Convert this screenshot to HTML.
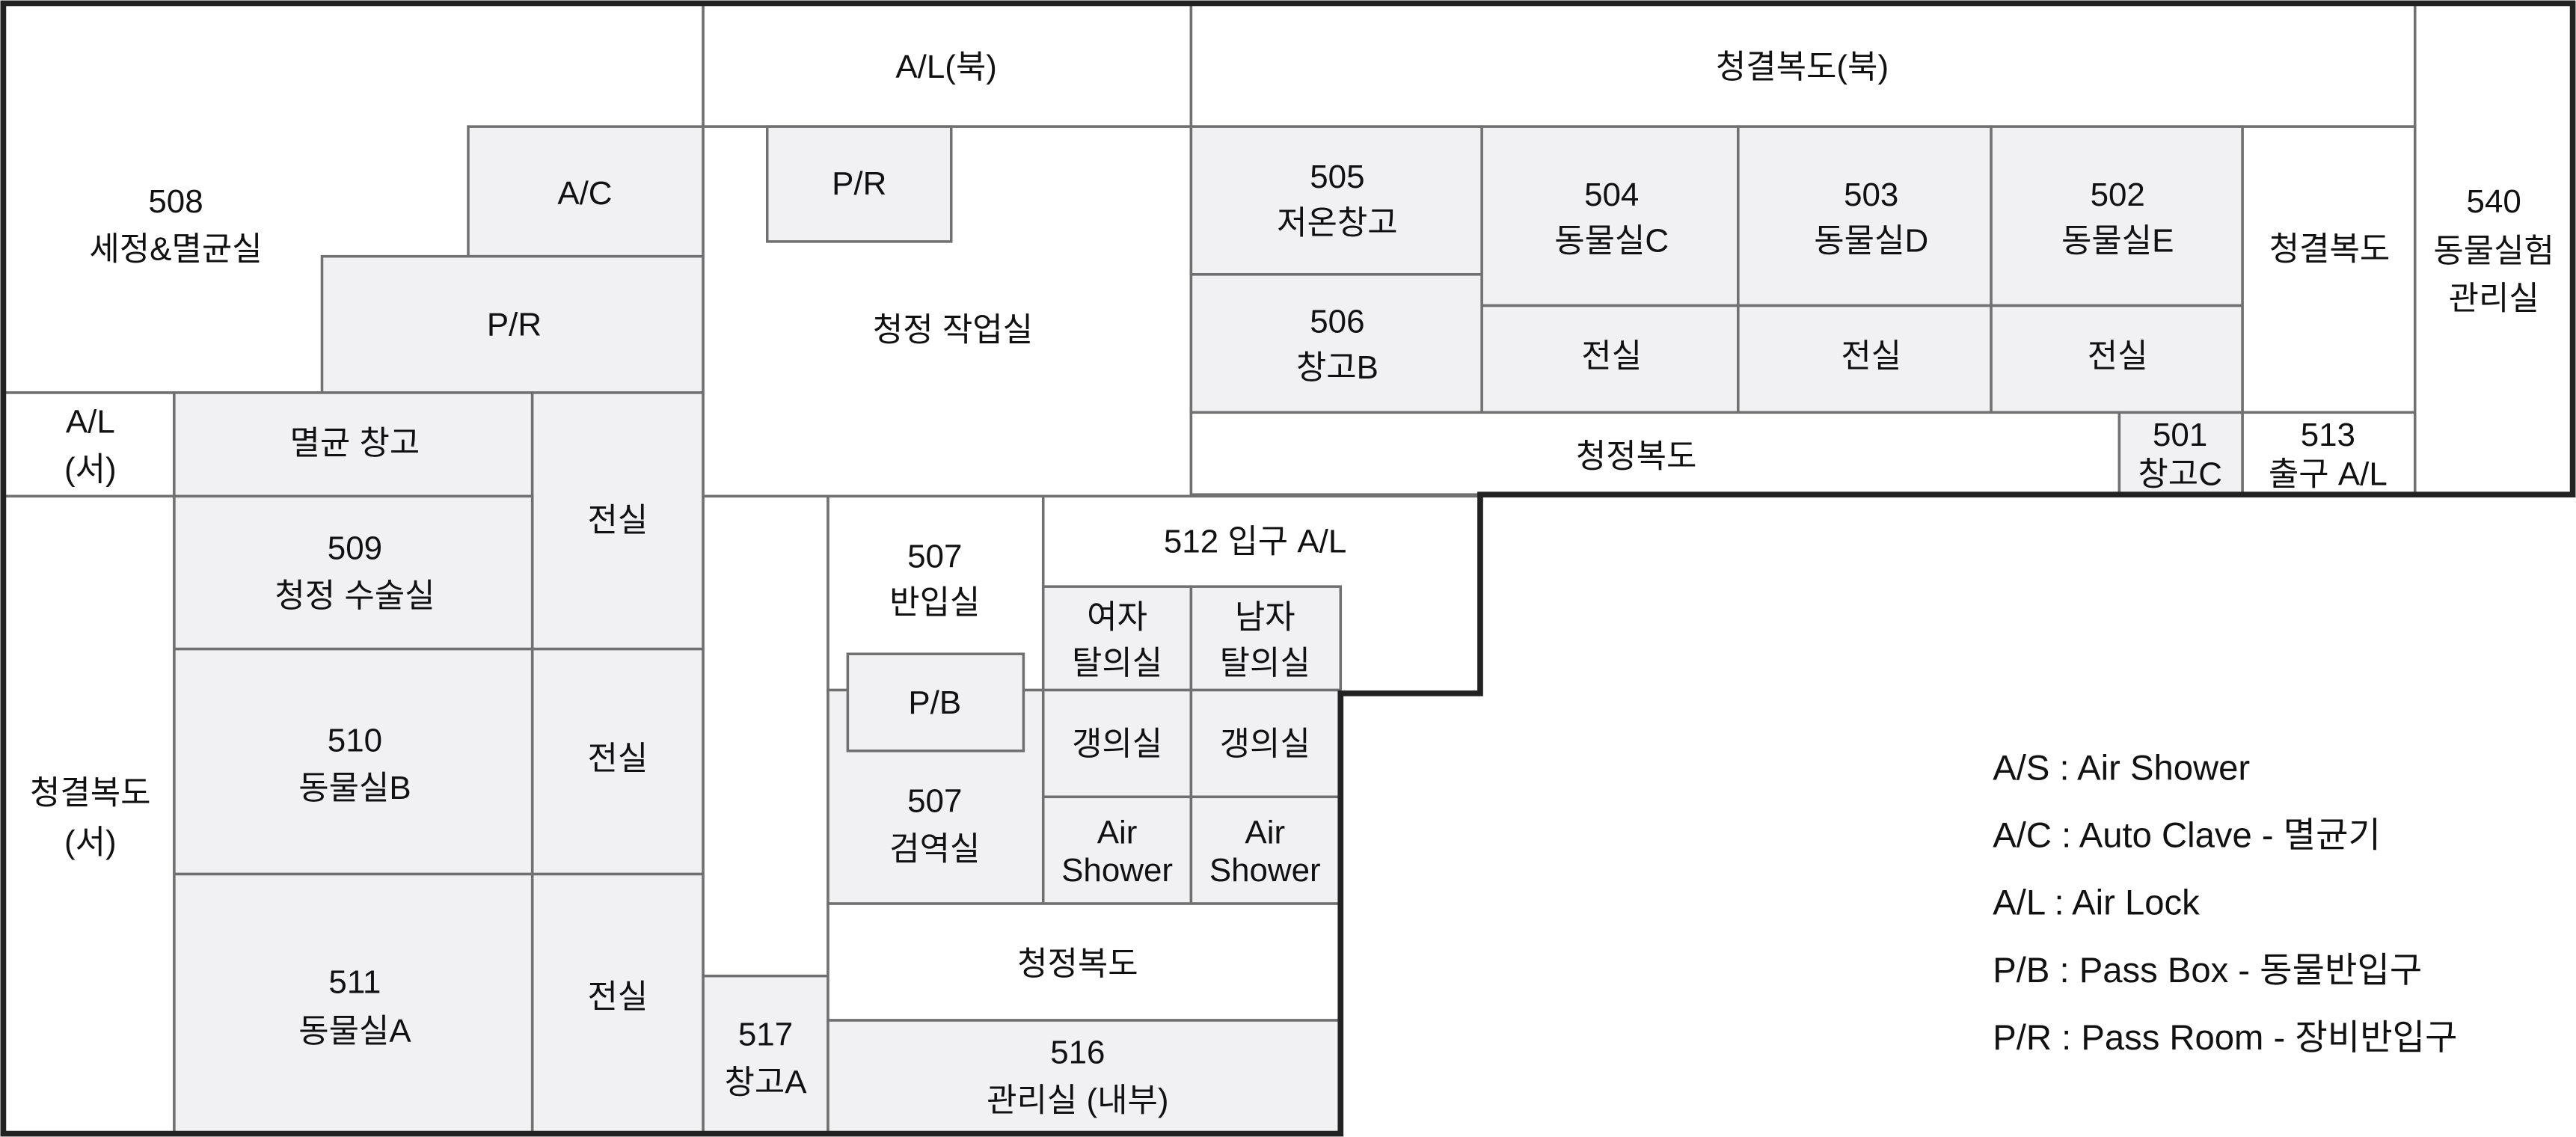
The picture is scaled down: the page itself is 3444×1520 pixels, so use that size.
<!DOCTYPE html>
<html><head><meta charset="utf-8"><style>
html,body{margin:0;padding:0;background:#fff;}
svg{display:block;}
text{font-family:"Liberation Sans","Noto Sans CJK KR",sans-serif;font-size:20px;fill:#111;text-anchor:middle;dominant-baseline:middle;font-weight:normal;}
.g{fill:#f1f1f3;stroke:#707070;stroke-width:1.6;}
.w{fill:#fff;stroke:#707070;stroke-width:1.6;}
.lg{text-anchor:start;font-size:21.5px;}
</style></head><body>
<svg width="3444" height="1520" viewBox="0 0 1568 692" xmlns="http://www.w3.org/2000/svg">
<rect x="0" y="0" width="1568" height="692" fill="#fff"/>
<rect class="w" x="2" y="2" width="426" height="237"/>
<rect class="g" x="285" y="77" width="143" height="79"/>
<rect class="g" x="196" y="156" width="232" height="83"/>
<rect class="w" x="2" y="239" width="104" height="63"/>
<rect class="g" x="106" y="239" width="218" height="63"/>
<rect class="g" x="324" y="239" width="104" height="156"/>
<rect class="g" x="324" y="395" width="104" height="137"/>
<rect class="g" x="324" y="532" width="104" height="158"/>
<rect class="g" x="106" y="302" width="218" height="93"/>
<rect class="g" x="106" y="395" width="218" height="137"/>
<rect class="g" x="106" y="532" width="218" height="158"/>
<rect class="w" x="2" y="302" width="104" height="388"/>
<rect class="w" x="428" y="2" width="297" height="75"/>
<rect class="w" x="428" y="77" width="297" height="225"/>
<rect class="g" x="467" y="77" width="112" height="70"/>
<rect class="w" x="725" y="2" width="745" height="75"/>
<rect class="g" x="725" y="77" width="177" height="90"/>
<rect class="g" x="725" y="167" width="177" height="84"/>
<rect class="g" x="902" y="77" width="156" height="109"/>
<rect class="g" x="902" y="186" width="156" height="65"/>
<rect class="g" x="1058" y="77" width="154" height="109"/>
<rect class="g" x="1058" y="186" width="154" height="65"/>
<rect class="g" x="1212" y="77" width="153" height="109"/>
<rect class="g" x="1212" y="186" width="153" height="65"/>
<rect class="w" x="1365" y="77" width="105" height="174"/>
<rect class="w" x="1470" y="2" width="96" height="299"/>
<rect class="w" x="725" y="251" width="565" height="50"/>
<rect class="g" x="1290" y="251" width="75" height="50"/>
<rect class="w" x="1365" y="251" width="105" height="50"/>
<rect class="w" x="428" y="302" width="76" height="292"/>
<rect class="g" x="428" y="594" width="76" height="96"/>
<rect class="w" x="504" y="302" width="131" height="118"/>
<rect class="g" x="504" y="420" width="131" height="130"/>
<rect class="g" x="516" y="398" width="107" height="59"/>
<rect class="w" x="635" y="302" width="266" height="120"/>
<rect class="g" x="635" y="357" width="90" height="63"/>
<rect class="g" x="725" y="357" width="91" height="63"/>
<rect class="g" x="635" y="420" width="90" height="65"/>
<rect class="g" x="725" y="420" width="91" height="65"/>
<rect class="g" x="635" y="485" width="90" height="65"/>
<rect class="g" x="725" y="485" width="91" height="65"/>
<rect class="w" x="504" y="550" width="312" height="71"/>
<rect class="g" x="504" y="621" width="312" height="69"/>
<path d="M2,2 H1566 V301 H901 V422 H816 V690 H2 Z" fill="none" stroke="#222" stroke-width="3.5"/>
<g transform="translate(0,1)">
<text x="107" y="123">508</text><text x="107" y="152">세정&amp;멸균실</text>
<text x="356" y="118">A/C</text>
<text x="313" y="198">P/R</text>
<text x="55" y="257">A/L</text><text x="55" y="286">(서)</text>
<text x="216" y="270">멸균 창고</text>
<text x="376" y="317">전실</text>
<text x="376" y="462">전실</text>
<text x="376" y="607">전실</text>
<text x="216" y="334">509</text><text x="216" y="363">청정 수술실</text>
<text x="216" y="451">510</text><text x="216" y="480">동물실B</text>
<text x="216" y="598">511</text><text x="216" y="628">동물실A</text>
<text x="55" y="483">청결복도</text><text x="55" y="513">(서)</text>
<text x="576" y="41">A/L(북)</text>
<text x="523" y="112">P/R</text>
<text x="580" y="201">청정 작업실</text>
<text x="1097" y="41">청결복도(북)</text>
<text x="814" y="108">505</text><text x="814" y="136">저온창고</text>
<text x="814" y="196">506</text><text x="814" y="224">창고B</text>
<text x="981" y="119">504</text><text x="981" y="147">동물실C</text>
<text x="1139" y="119">503</text><text x="1139" y="147">동물실D</text>
<text x="1289" y="119">502</text><text x="1289" y="147">동물실E</text>
<text x="981" y="217">전실</text>
<text x="1139" y="217">전실</text>
<text x="1289" y="217">전실</text>
<text x="1418" y="152">청결복도</text>
<text x="1518" y="123">540</text><text x="1518" y="153">동물실험</text><text x="1518" y="182">관리실</text>
<text x="996" y="278">청정복도</text>
<text x="1327" y="265">501</text><text x="1327" y="289">창고C</text>
<text x="1417" y="265">513</text><text x="1417" y="289">출구 A/L</text>
<text x="569" y="339">507</text><text x="569" y="367">반입실</text>
<text x="764" y="330">512  입구 A/L</text>
<text x="680" y="376">여자</text><text x="680" y="404">탈의실</text>
<text x="770" y="376">남자</text><text x="770" y="404">탈의실</text>
<text x="569" y="428">P/B</text>
<text x="680" y="453">갱의실</text><text x="770" y="453">갱의실</text>
<text x="680" y="507">Air</text><text x="680" y="530">Shower</text>
<text x="770" y="507">Air</text><text x="770" y="530">Shower</text>
<text x="569" y="488">507</text><text x="569" y="517">검역실</text>
<text x="656" y="587">청정복도</text>
<text x="466" y="630">517</text><text x="466" y="659">창고A</text>
<text x="656" y="641">516</text><text x="656" y="670">관리실 (내부)</text>
<text class="lg" x="1213" y="468">A/S : Air Shower</text>
<text class="lg" x="1213" y="509">A/C : Auto Clave - 멸균기</text>
<text class="lg" x="1213" y="550">A/L : Air Lock</text>
<text class="lg" x="1213" y="591">P/B : Pass Box - 동물반입구</text>
<text class="lg" x="1213" y="632">P/R : Pass Room - 장비반입구</text>
</g>
</svg>
</body></html>
